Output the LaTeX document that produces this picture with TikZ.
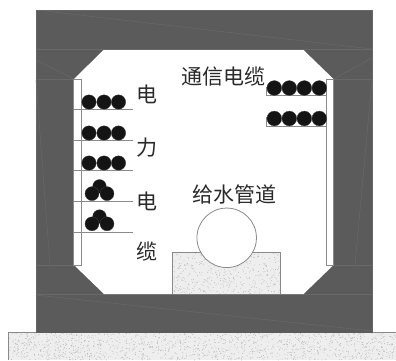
\documentclass[tikz,border=0pt]{standalone}
\usepackage{fontspec}
\newfontfamily\cjk{Noto Sans CJK SC}
\definecolor{wall}{HTML}{5B5B5B}
\definecolor{wallline}{HTML}{686868}
\definecolor{edgegray}{HTML}{8A8A8A}
\definecolor{txt}{HTML}{2A2A2A}
\definecolor{grainbase}{HTML}{EEEEEE}
\definecolor{grain}{HTML}{B8B8B8}
\begin{document}
\begin{tikzpicture}[x=1pt,y=-1pt,
  cjktext/.style={font=\cjk\fontsize{21}{21}\selectfont, text=txt, inner sep=0pt},
  cable/.style={fill=black!92, draw=black!75, line width=0.3pt},
  rack/.style={draw=edgegray, line width=0.8pt},
  bracket/.style={fill=white, draw=edgegray, line width=0.8pt},
  seam/.style={draw=wallline, line width=0.5pt}]
\useasboundingbox (0,0) rectangle (396,360);
\pgfmathsetseed{4242}

% ground slab with a grainy fill
\fill[grainbase] (8.3,332.5) rectangle (396,360);
\foreach \i in {1,...,1400}{
  \pgfmathsetmacro\px{8.6+387*rnd}
  \pgfmathsetmacro\py{333+27*rnd}
  \fill[grain] (\px,\py) circle (0.45);
}
\draw[edgegray, line width=0.7pt] (8.3,360) -- (8.3,332.5) -- (396,332.5);

% concrete box
\fill[wall] (36,10) rectangle (372,332.5);
\draw[black!60, line width=0.6pt] (36,332.5) -- (36,10) -- (372,10) -- (372,332.5);
\draw[seam] (45,11) -- (372,49);
\draw[seam] (36,49.5) -- (372,49.5);
\draw[seam] (36,79) -- (74,79) (333.5,79) -- (372,79);
\draw[seam] (36,265) -- (74,265) (333.5,265) -- (372,265);
\draw[seam] (36,294) -- (372,294);
\draw[seam] (36,295) -- (372,331);
\draw[seam] (36,80) -- (50,265);
\draw[seam] (372,80) -- (355,265);
\draw[seam] (36,60) -- (74,79);
\draw[seam] (333.5,79) -- (372,58);

% inner chamber
\fill[white] (103.5,50) -- (303.5,50) -- (333.5,79) -- (333.5,265)
  -- (303.5,294) -- (104,294) -- (74,265) -- (74,79) -- cycle;

% pipe support block
\fill[grainbase] (172.3,252.3) rectangle (280.7,294);
\foreach \i in {1,...,450}{
  \pgfmathsetmacro\px{172.6+107.8*rnd}
  \pgfmathsetmacro\py{252.6+41.2*rnd}
  \fill[grain] (\px,\py) circle (0.45);
}
\draw[edgegray, line width=0.8pt] (172.3,294) -- (172.3,252.3) -- (280.7,252.3) -- (280.7,294);

% water pipe
\node[circle, draw=edgegray, fill=white, line width=0.8pt,
  minimum size=59.5pt, inner sep=0pt] (pipe) at (226.7,237.8) {};

% wall brackets
\draw[bracket] (73.7,79) rectangle (81.7,265);
\draw[bracket] (326,79) rectangle (333.3,265);

% power cable racks, left wall
\foreach \y in {109,140,170,201,232}
  \draw[rack] (73.7,\y) -- (133,\y);
\foreach \y in {102,133,163}
  \foreach \x in {89,104,118.5}
    \fill[cable] (\x,\y) circle (7.2);
\foreach \y in {0,30.2}{
  \fill[cable] (99.5,186.3+\y) circle (6.8);
  \fill[cable] (92,193.6+\y) circle (7);
  \fill[cable] (107,193.6+\y) circle (7);
}

% telecom cable racks, right wall
\foreach \y in {95.5,126}
  \draw[rack] (266.7,\y-9) -- (266.7,\y) -- (326,\y);
\foreach \y in {88,118.5}
  \foreach \x in {274.3,289.3,304.3,319.3}
    \fill[cable] (\x,\y) circle (7.4);

% labels
\node[cjktext] (tel) at (223.5,77) {通信电缆};
\node[cjktext] (pw1) at (147,94) {电};
\node[cjktext] (pw2) at (147,148) {力};
\node[cjktext] (pw3) at (147,201.5) {电};
\node[cjktext] (pw4) at (147,252) {缆};
\node[cjktext] (water) at (234.5,195) {给水管道};
\end{tikzpicture}
\end{document}
